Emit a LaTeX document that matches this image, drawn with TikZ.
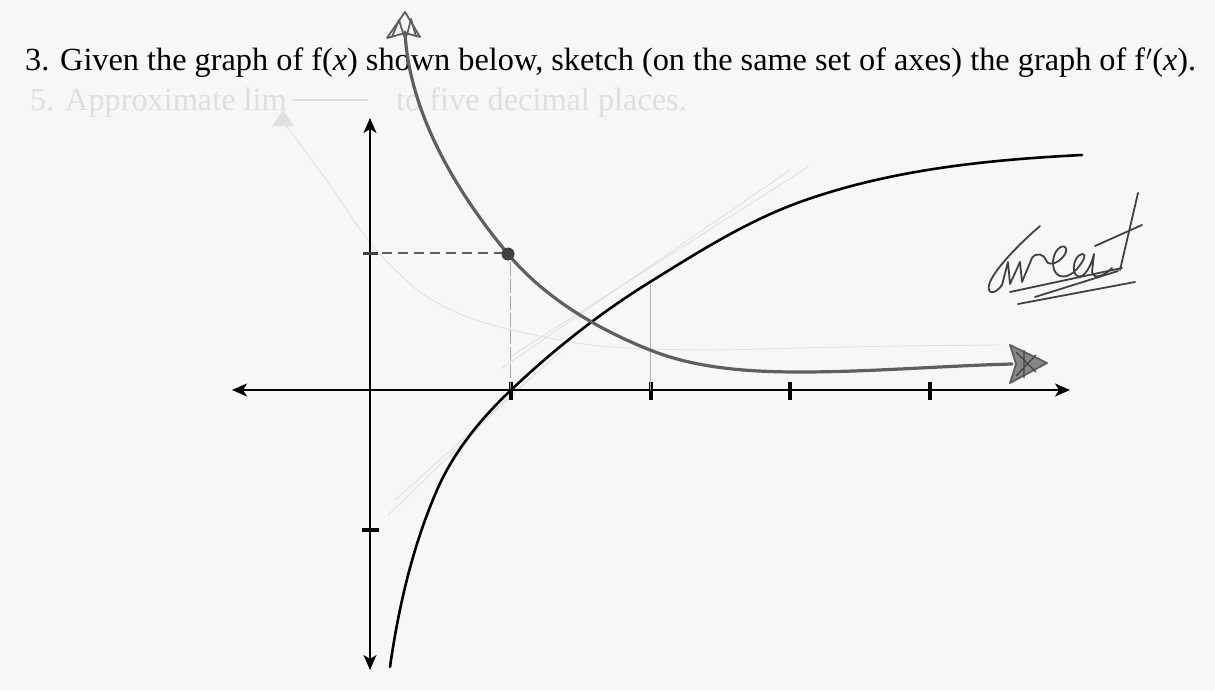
\documentclass[tikz,border=0pt]{standalone}
\usepackage{fontspec}
\setmainfont{Liberation Serif}
\usetikzlibrary{arrows.meta}
\definecolor{paper}{RGB}{247,247,247}
\definecolor{pencil}{RGB}{95,95,95}
\definecolor{pencildark}{RGB}{65,65,65}
\definecolor{faint}{RGB}{224,224,224}
\definecolor{ghost}{RGB}{222,222,222}
\tikzset{
  axisline/.style={line width=1.3pt, black, {Stealth[length=15pt,width=13pt,inset=4pt]}-{Stealth[length=15pt,width=13pt,inset=4pt]}},
  fcurve/.style={line width=2.6pt, black, line cap=round, line join=round},
  pencilcurve/.style={line width=3.2pt, pencil, line cap=round, line join=round},
  pencilhead/.style={line width=1.8pt, pencil, line join=round, line cap=round},
  faintline/.style={line width=0.9pt, faint, line cap=round},
  tickmark/.style={line width=3.2pt, black},
  great/.style={line width=1.8pt, pencildark, line cap=round, line join=round},
  txt/.style={anchor=base west, inner sep=0pt, font=\fontsize{32.3}{38}\selectfont}
}
\begin{document}
\begin{tikzpicture}[x=1pt,y=-1pt]
\fill[paper] (0,0) rectangle (1215,691);
\useasboundingbox (0,0) rectangle (1215,691);

% ghost text (bleed-through)
\node[txt, text=ghost] (ghost1) at (30,110) {5. Approximate lim};
\node[txt, text=ghost] (ghost2) at (396,110) {to five decimal places.};
\draw[ghost, line width=1.5pt] (292,100) -- (368,100);
\fill[faint] (283,110) -- (272,126) -- (294,126) -- cycle;

% faint erased pencil lines
\draw[faintline] plot[smooth] coordinates {(285,124) (330,185) (372,245) (420,292) (470,318) (530,334) (600,346) (700,350) (800,348) (900,346) (1000,345)};
\draw[faintline] (510,357) -- (808,167);
\draw[faintline] (502,368) -- (790,170);
\draw[faintline] (388,515) -- (530,378);
\draw[faintline] (395,500) -- (560,352);

% title
\node[txt] (title) at (25,70) {3. Given the graph of f(\textit{x}) shown below, sketch (on the same set of axes) the graph of f\kern1pt$'$(\textit{x}).};

% axes
\coordinate (xl) at (232,390);
\coordinate (xr) at (1070,390);
\coordinate (yt) at (370,118);
\coordinate (yb) at (370,670);
\draw[axisline] (xl) -- (xr);
\draw[axisline] (yb) -- (yt);

% ticks
\foreach \tk in {511,651,790,930} \draw[tickmark] (\tk,382) -- (\tk,400);
\draw[tickmark] (362,530) -- (379,530);
\draw[line width=3pt, pencildark] (363,253) -- (378,253);

% guide lines
\draw[pencil, line width=2pt, dash pattern=on 10pt off 6pt] (382,253) -- (502,253);
\draw[gray!70, line width=0.9pt, dash pattern=on 14pt off 3pt] (510,262) -- (510,390);
\draw[gray!60, line width=0.9pt] (650,284) -- (650,390);

% f(x)
\coordinate (f0) at (390,667);
\coordinate (f5) at (1082,155);
\draw[fcurve] (f0) .. controls (398.6,606.6) and (412.7,545.9) .. (437,490)
  .. controls (453.4,452.4) and (480.3,419.2) .. (510,391)
  .. controls (552.8,350.3) and (599.8,313.1) .. (650,282)
  .. controls (698.2,252.1) and (746.7,221.2) .. (800,202)
  .. controls (889.7,169.7) and (986.8,159.8) .. (f5);

% f'(x) pencil sketch
\coordinate (p0) at (405,32);
\coordinate (dot) at (508,254);
\coordinate (p4) at (1012,364);
\draw[pencilcurve] (p0) .. controls (409,112) and (455.5,191) .. (dot)
  .. controls (544.5,297.8) and (597.1,328.9) .. (650,350)
  .. controls (696.4,368.6) and (750,372) .. (800,372)
  .. controls (870,372) and (940,366) .. (p4);
\fill[pencildark] (dot) circle (6.5);

% pencil arrowheads
\draw[pencilhead] (387,38) -- (405,12) -- (420,37) -- (405,33) -- cycle;
\draw[pencilhead] (392,37) -- (399,20) -- (404,36);
\draw[pencilhead] (407,35) -- (411,19) -- (416,36);
\filldraw[pencilhead, fill=pencil!75] (1010,345) -- (1047,363) -- (1010,383) -- (1016,364) -- cycle;
\draw[line width=1.2pt, pencildark] (1016,352) -- (1036,372) (1016,376) -- (1036,355) (1024,350) -- (1024,378);

% "Great"
\draw[great] (1040,226) .. controls (1018,245) and (996,268) .. (990,282)
  .. controls (985,295) and (995,295) .. (1002,285)
  -- (1008,262) -- (1010,284) -- (1020,262) -- (1022,282) -- (1032,258)
  .. controls (1036,252) and (1044,254) .. (1046,260)
  .. controls (1048,268) and (1062,262) .. (1066,252)
  .. controls (1068,244) and (1058,244) .. (1054,256)
  .. controls (1050,270) and (1058,284) .. (1074,272)
  .. controls (1082,264) and (1088,254) .. (1082,254)
  .. controls (1072,256) and (1070,280) .. (1082,276)
  .. controls (1088,272) and (1092,262) .. (1094,254)
  -- (1092,272) .. controls (1094,280) and (1104,276) .. (1112,268);
\draw[great] (1138,193) -- (1120,270);
\draw[great] (1095,246) -- (1142,225);
\draw[great] (1010,292) -- (1122,268);
\draw[great] (1118,271) -- (1035,297);
\draw[great] (1018,304) -- (1135,282);
\end{tikzpicture}
\end{document}
